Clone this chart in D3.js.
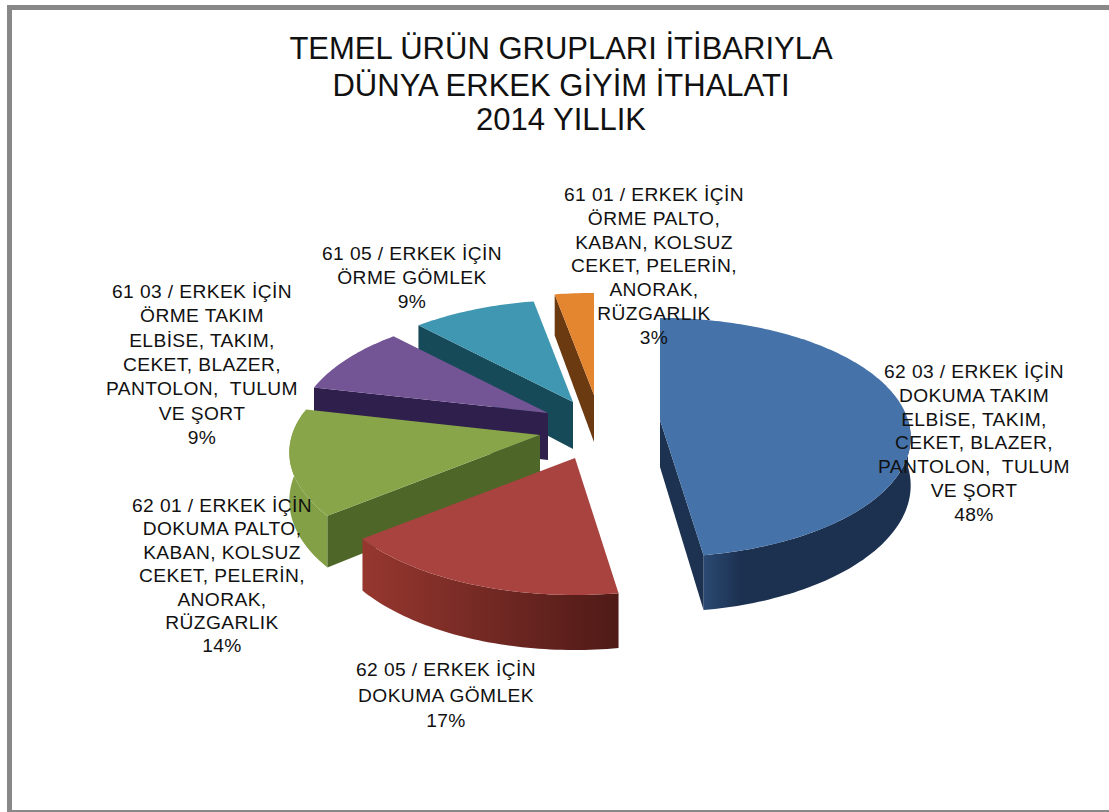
<!DOCTYPE html>
<html><head><meta charset="utf-8">
<script src="https://cdn.jsdelivr.net/npm/d3@7"></script>
<style>html,body{margin:0;padding:0;background:#fff}svg{display:block}text{font-family:"Liberation Sans",Arial,sans-serif;fill:#111}</style>
</head><body><svg id="c" width="1109" height="812"></svg>
<script>
// ---- data ----
const titleLines = ["TEMEL ÜRÜN GRUPLARI İTİBARIYLA", "DÜNYA ERKEK GİYİM İTHALATI", "2014 YILLIK"];
const categories = [
  ["62 03 / ERKEK İÇİN","DOKUMA TAKIM","ELBİSE, TAKIM,","CEKET, BLAZER,","PANTOLON,  TULUM","VE ŞORT"],
  ["62 05 / ERKEK İÇİN","DOKUMA GÖMLEK"],
  ["62 01 / ERKEK İÇİN","DOKUMA PALTO,","KABAN, KOLSUZ","CEKET, PELERİN,","ANORAK,","RÜZGARLIK"],
  ["61 03 / ERKEK İÇİN","ÖRME TAKIM","ELBİSE, TAKIM,","CEKET, BLAZER,","PANTOLON,  TULUM","VE ŞORT"],
  ["61 05 / ERKEK İÇİN","ÖRME GÖMLEK"],
  ["61 01 / ERKEK İÇİN","ÖRME PALTO,","KABAN, KOLSUZ","CEKET, PELERİN,","ANORAK,","RÜZGARLIK"]
];
const values = [47.6, 16.6, 14.4, 9.3, 9.2, 2.9];

// ---- style / layout ----
const topColors  = ["#4472a9","#a8433f","#89a54a","#735495","#3f97b2","#e4852f"];
const wallLeft   = ["#2b4a73","#96372f","#83a046","#4a3568","#1d5b6c","#8a4c14"];
const wallRight  = ["#1c3150","#4f1a17","#83a046","#2e1f4c","#15485a","#6b3a10"];
const sideColors = ["#1c3250","#5a1f1c","#4f6629","#2f1f4d","#164a58","#6b3a10"];
// exploded apex of every slice, as a shift from the pie's centre
const centre = {x: 605, y: 424};
const explode = [[55,-4],[-30,34],[-65,11],[-57,-11],[-32,-22],[-11,-29]];
const RX = 248, RY = 117, PERSP = 0.146, DEPTH = 47;
const labelPos = [[974,371],[446,669],[222,505],[202,291],[412,253],[654,194]];
const labelStep = [23.8,25.5,23.4,24.3,24,23.8];
const FS = 19.2, LS = 0.4;

const svg = d3.select("#c");
const W = 1109, H = 812;
svg.append("rect").attr("width",W).attr("height",H).attr("fill","#fff");
// frame
svg.append("path").attr("fill","#888")
  .attr("d",`M7 5H${W}V10H12V${H-2}H${W}V${H}H7Z`);

// ---- perspective projection of a point on the disc ----
function proj(theta, r, depth) {
  const u = r*Math.sin(theta), v = r*Math.cos(theta);
  const f = 1/(1+PERSP*v);
  return [RX*u*f, -RY*v*f + depth*f];
}
function arcPts(a,b,depth){
  const n = Math.max(2,Math.ceil((b-a)/0.02)), pts=[];
  for(let i=0;i<=n;i++) pts.push(proj(a+(b-a)*i/n,1,depth));
  return pts;
}
const line = d3.line();
const pie = d3.pie().value(d=>d).sort(null)(values);
const defs = svg.append("defs");
const order = [5,4,3,2,1,0];
const chart = svg.append("g");

order.forEach(i=>{
  const s = pie[i];
  const a=s.startAngle, b=s.endAngle;
  const g = chart.append("g").attr("transform",`translate(${centre.x+explode[i][0]},${centre.y+explode[i][1]})`);
  const gid="w"+i;
  const lg=defs.append("linearGradient").attr("id",gid).attr("x1",0).attr("x2",1).attr("y1",0).attr("y2",0);
  lg.append("stop").attr("offset",0).attr("stop-color",wallLeft[i]);
  lg.append("stop").attr("offset",i===0?0.18:1).attr("stop-color",wallRight[i]);
  // outer wall: the part of the rim facing the viewer
  const lo=Math.max(a,Math.PI/2), hi=Math.min(b,3*Math.PI/2+0.2);
  if(hi>lo){
    const t=arcPts(lo,hi,0), bt=arcPts(lo,hi,DEPTH).reverse();
    g.append("path").attr("d",line(t.concat(bt))+"Z").attr("fill",`url(#${gid})`);
  }
  // radial walls
  const wall=(ang)=>{
    const p=proj(ang,1,0), q=proj(ang,1,DEPTH), c0=proj(ang,0,0), c1=proj(ang,0,DEPTH);
    g.append("path").attr("d",line([c0,p,q,c1])+"Z").attr("fill",sideColors[i]);
  };
  if(Math.sin(a)<0) wall(a);
  if(Math.sin(b)>0) wall(b);
  // top face
  const top=[proj(a,0,0)].concat(arcPts(a,b,0));
  g.append("path").attr("d",line(top)+"Z").attr("fill",topColors[i]);
});

// ---- title ----
const titleY=[59,96,130];
svg.append("g").selectAll("text").data(titleLines).join("text")
  .attr("x",561).attr("y",(d,i)=>titleY[i]).attr("text-anchor","middle")
  .attr("font-size",31).text(d=>d);

// ---- labels ----
const lab = svg.append("g");
categories.forEach((lines,i)=>{
  const all=lines.concat(Math.round(values[i])+"%");
  lab.append("g").selectAll("text").data(all).join("text")
    .attr("x",labelPos[i][0]).attr("y",(d,k)=>labelPos[i][1]+7+k*labelStep[i])
    .attr("text-anchor","middle").attr("font-size",FS).attr("letter-spacing",LS)
    .style("white-space","pre").text(d=>d);
});
</script></body></html>
